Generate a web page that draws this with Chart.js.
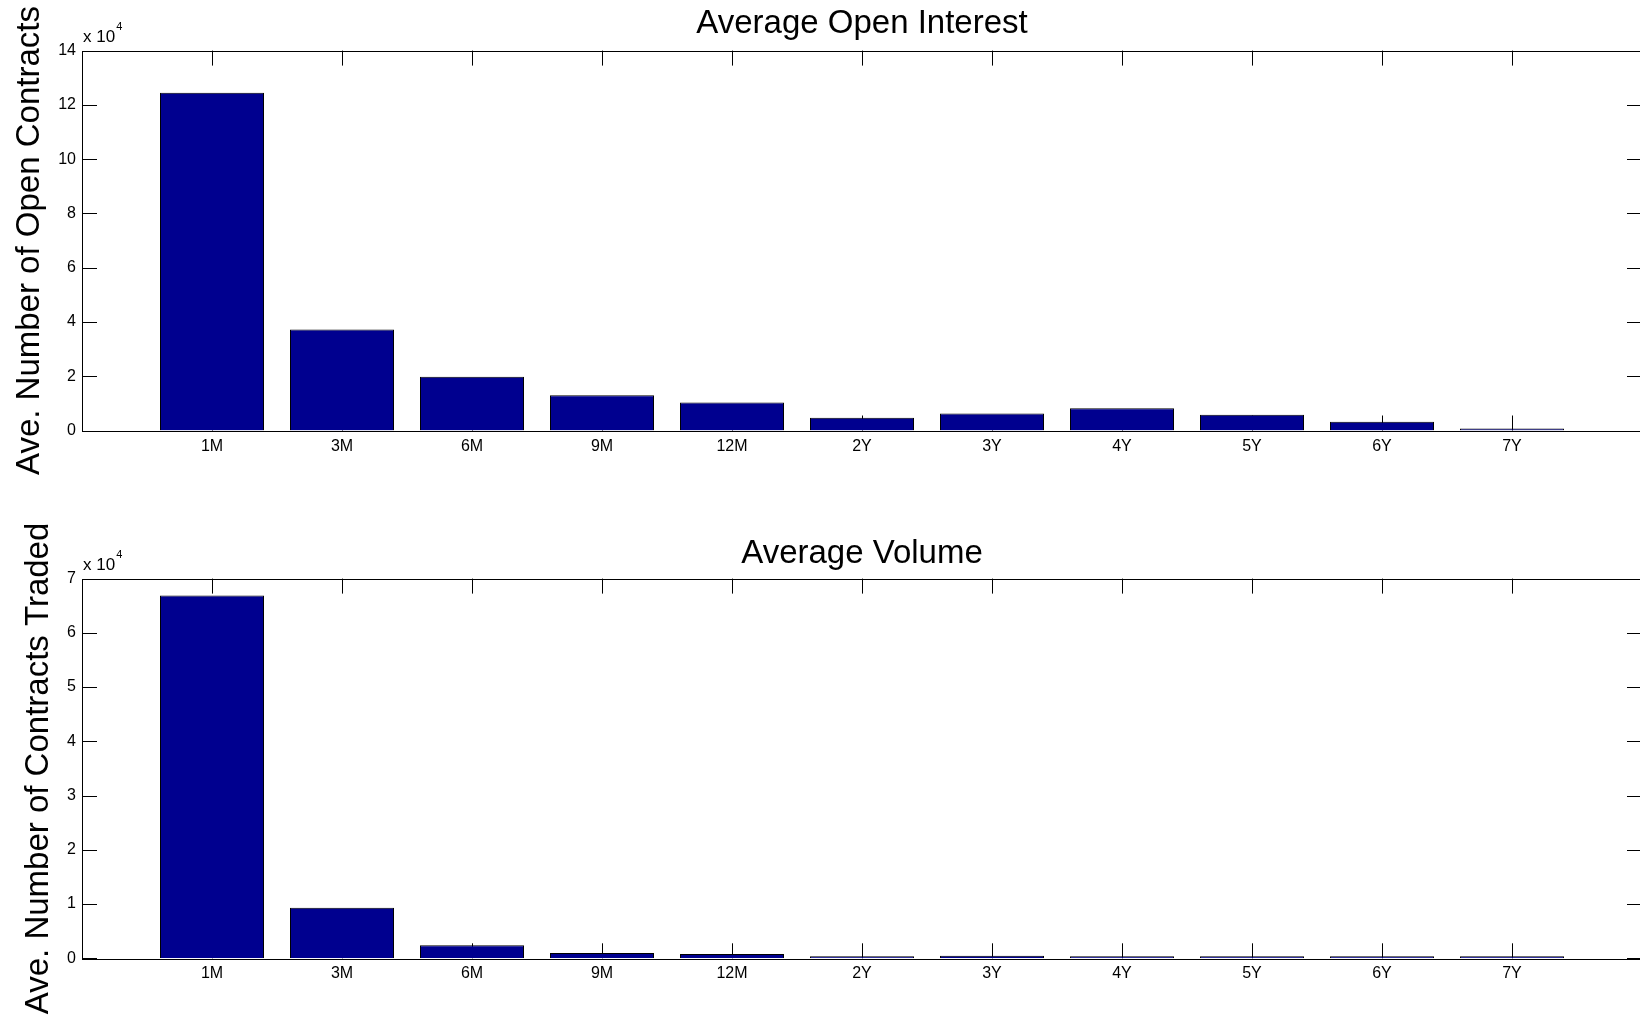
<!DOCTYPE html>
<html>
<head>
<meta charset="utf-8">
<title>Average Open Interest and Volume</title>
<script src="https://cdn.jsdelivr.net/npm/chart.js@4.4.0/dist/chart.umd.min.js"></script>
<style>
  html, body { margin: 0; padding: 0; background: #fff; overflow: hidden; }
  .panel { position: absolute; left: 0; width: 1660px; height: 512px; }
  #top-panel { top: 0; }
  #bottom-panel { top: 512px; }
</style>
</head>
<body>
<div class="panel" id="top-panel"><canvas id="open-interest" width="1660" height="512"></canvas></div>
<div class="panel" id="bottom-panel"><canvas id="volume" width="1660" height="512"></canvas></div>
<script>
// Data (number of contracts)
const tenors = ['1M', '3M', '6M', '9M', '12M', '2Y', '3Y', '4Y', '5Y', '6Y', '7Y'];
const openInterest = [124500, 37200, 19800, 13000, 10300, 4700, 6300, 8200, 5800, 3200, 600];
const volume = [66900, 9300, 2400, 1000, 800, 200, 450, 200, 200, 200, 200];
const openInterestTicks = [0, 2, 4, 6, 8, 10, 12, 14];
const volumeTicks = [0, 1, 2, 3, 4, 5, 6, 7];

const FONT = 'Liberation Sans, Arial, Helvetica, sans-serif';
const BAR_COLOR = '#00008F';

// MATLAB style box with ticks pointing inward, plus the "x 10^4" multiplier
const matlabAxes = {
  id: 'matlabAxes',
  beforeDatasetsDraw(chart) {
    const { ctx, chartArea: a, scales: { x, y } } = chart;
    const len = 15;
    ctx.save();
    ctx.strokeStyle = '#000';
    ctx.lineWidth = 1;
    ctx.beginPath();
    y.ticks.forEach((t) => {
      const py = Math.round(y.getPixelForValue(t.value)) + 0.5;
      ctx.moveTo(a.left, py);
      ctx.lineTo(a.left + len, py);
      ctx.moveTo(a.right, py);
      ctx.lineTo(a.right - len, py);
    });
    x.ticks.forEach((t) => {
      if (!tenors[t.value - 1]) return;
      const px = Math.round(x.getPixelForValue(t.value)) + 0.5;
      ctx.moveTo(px, a.bottom);
      ctx.lineTo(px, a.bottom - len);
      ctx.moveTo(px, a.top);
      ctx.lineTo(px, a.top + len);
    });
    ctx.stroke();
    ctx.restore();
  },
  afterDatasetsDraw(chart) {
    const { ctx, chartArea: a } = chart;
    ctx.save();
    ctx.strokeStyle = '#000';
    ctx.lineWidth = 1;
    ctx.strokeRect(Math.round(a.left) + 0.5, Math.round(a.top) + 0.5,
      Math.round(a.right - a.left), Math.round(a.bottom - a.top));
    // exponent label
    ctx.fillStyle = '#000';
    ctx.textBaseline = 'alphabetic';
    ctx.textAlign = 'left';
    ctx.font = '17px ' + FONT;
    ctx.fillText('x 10', a.left + 1, a.top - 9);
    const w = ctx.measureText('x 10').width;
    ctx.font = '11px ' + FONT;
    ctx.fillText('4', a.left + 2 + w, a.top - 21);
    ctx.restore();
  }
};

function makeChart(canvasId, values, yTicks, title, yLabel, opts) {
  const step = yTicks[1] - yTicks[0];
  return new Chart(document.getElementById(canvasId), {
    type: 'bar',
    data: {
      datasets: [{
        data: values.map((v, i) => ({ x: i + 1, y: v })),
        backgroundColor: BAR_COLOR,
        borderColor: '#000',
        borderWidth: 1,
        minBarLength: 2,
        barPercentage: 0.8,
        categoryPercentage: 1.0
      }]
    },
    options: {
      responsive: false,
      animation: false,
      layout: { padding: { top: opts.padTop, right: 18, bottom: 0, left: 0 } },
      plugins: {
        legend: { display: false },
        tooltip: { enabled: false },
        title: {
          display: true,
          fullSize: false,
          text: title,
          color: '#000',
          font: { family: FONT, size: 33, weight: 'normal' },
          padding: opts.titlePad
        }
      },
      scales: {
        x: {
          type: 'linear',
          min: 0,
          max: tenors.length + 1,
          offset: false,
          grid: { display: false, drawTicks: false, offset: false },
          border: { display: false },
          ticks: {
            stepSize: 1,
            autoSkip: false,
            maxRotation: 0,
            padding: 6,
            color: '#000',
            font: { family: FONT, size: 16 },
            callback: (v) => tenors[v - 1] || ''
          },
          afterFit: (s) => { s.height = opts.xHeight; }
        },
        y: {
          min: yTicks[0] * 1e4,
          max: yTicks[yTicks.length - 1] * 1e4,
          grid: { display: false, drawTicks: false },
          border: { display: false },
          ticks: {
            stepSize: step * 1e4,
            padding: 6,
            color: '#000',
            font: { family: FONT, size: 16 },
            callback: (v) => v / 1e4
          },
          title: {
            display: true,
            text: yLabel,
            color: '#000',
            font: { family: FONT, size: 33, weight: 'normal' },
            padding: { top: opts.labelPad, bottom: 0 }
          },
          afterFit: (s) => { s.width = 82; }
        }
      }
    },
    plugins: [matlabAxes]
  });
}

makeChart('open-interest', openInterest, openInterestTicks, 'Average Open Interest',
  'Ave. Number of Open Contracts',
  { padTop: 0, xHeight: 81.5, labelPad: 10, titlePad: { top: 4, bottom: 7 } });
makeChart('volume', volume, volumeTicks, 'Average Volume',
  'Ave. Number of Contracts Traded',
  { padTop: 16, xHeight: 65.7, labelPad: 19, titlePad: { top: 6, bottom: 5 } });
</script>
</body>
</html>
